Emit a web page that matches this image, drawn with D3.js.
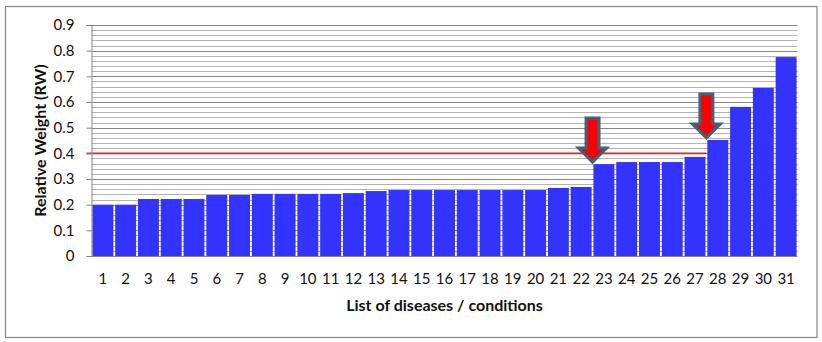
<!DOCTYPE html>
<html>
<head>
<meta charset="utf-8">
<script src="https://cdn.jsdelivr.net/npm/d3@7"></script>
<style>
  html, body { margin: 0; padding: 0; background: #fff; }
  svg { display: block; }
  text { font-family: Lato, "Open Sans", sans-serif; fill: #111; }
</style>
</head>
<body>
<svg id="chart" width="822" height="342"></svg>
<script>
// Diseases / conditions, numbered 1..31
const categories = d3.range(1, 32).map(String);

// Relative weight of each condition
const relativeWeight = [
  0.200, 0.200, 0.222, 0.222, 0.222, 0.238, 0.238, 0.242, 0.242, 0.242,
  0.242, 0.245, 0.253, 0.257, 0.257, 0.257, 0.257, 0.257, 0.257, 0.257,
  0.265, 0.269, 0.358, 0.366, 0.366, 0.366, 0.386, 0.452, 0.581, 0.655,
  0.775
];

// Y axis ticks
const yTicks = [0, 0.1, 0.2, 0.3, 0.4, 0.5, 0.6, 0.7, 0.8, 0.9];
const yMinorStep = 0.02;

// Reference threshold line and the category boundaries marked by arrows
const threshold = 0.4;
const arrowAfter = ["22", "27"];   // arrow sits between this category and the next
const arrowTip = [0.366, 0.46];    // value the arrow points to

const svg = d3.select("#chart");
const W = 822, H = 342;
const margin = { left: 91.5, right: 24.5, top: 25, bottom: 86 };
const plotW = W - margin.left - margin.right;
const plotH = H - margin.top - margin.bottom;

// Outer frame
svg.append("rect")
  .attr("x", 5.5).attr("y", 6.5)
  .attr("width", 811.5).attr("height", 331)
  .attr("fill", "#fff").attr("stroke", "#8c8c8c").attr("stroke-width", 1.3);

const g = svg.append("g").attr("transform", `translate(${margin.left},${margin.top})`);

const x = d3.scaleBand().domain(categories).range([0, plotW]).paddingInner(0.08).paddingOuter(0.04);
const y = d3.scaleLinear().domain([0, 0.9]).range([plotH, 0]);

// Minor gridlines every 0.02
const minor = d3.range(0, 0.9001, yMinorStep).filter(v => Math.abs(v * 10 - Math.round(v * 10)) > 1e-6);
g.append("g").selectAll("line").data(minor).join("line")
  .attr("x1", 0).attr("x2", plotW)
  .attr("y1", d => Math.round(y(d)) + 0.5).attr("y2", d => Math.round(y(d)) + 0.5)
  .attr("stroke", "#b4b4b4").attr("stroke-width", 1);

// Major gridlines
g.append("g").selectAll("line").data(yTicks.filter(d => d > 0)).join("line")
  .attr("x1", 0).attr("x2", plotW)
  .attr("y1", d => Math.round(y(d)) + 0.5).attr("y2", d => Math.round(y(d)) + 0.5)
  .attr("stroke", "#878787").attr("stroke-width", 1);

// Threshold line
const lastSlot = x(arrowAfter[arrowAfter.length - 1]) + x.bandwidth() + x.step() * x.paddingInner() / 2;
g.append("line")
  .attr("x1", -5).attr("x2", lastSlot)
  .attr("y1", y(threshold)).attr("y2", y(threshold))
  .attr("stroke", "#e8231f").attr("stroke-width", 1.6);

// Bars
g.append("g").selectAll("rect").data(relativeWeight).join("rect")
  .attr("x", (d, i) => x(categories[i]))
  .attr("y", d => y(d))
  .attr("width", x.bandwidth())
  .attr("height", d => y(0) - y(d))
  .attr("fill", "#3333ff");

// Y axis
const yAxis = g.append("g")
  .call(d3.axisLeft(y).tickValues(yTicks).tickFormat(d => d === 0 ? "0" : d3.format(".1f")(d)).tickSize(5).tickPadding(12));
yAxis.select(".domain").attr("stroke", "#868686");
yAxis.selectAll(".tick line").attr("stroke", "#868686");
yAxis.selectAll(".tick text").attr("font-size", 15).attr("font-family", "Lato, sans-serif").attr("fill", "#111");

// X axis
const xAxis = g.append("g").attr("transform", `translate(0,${plotH})`)
  .call(d3.axisBottom(x).tickSize(0).tickPadding(17));
xAxis.select(".domain").attr("stroke", "#868686").attr("d", `M0,0.5H${plotW}`);
xAxis.selectAll(".tick text").attr("font-size", 15).attr("font-family", "Lato, sans-serif").attr("fill", "#111");

// Arrows
const arrowLen = 44, headLen = 14, shaftHalf = 6.5, headHalf = 14;
arrowAfter.forEach((c, i) => {
  const cx = x(c) + x.bandwidth() + x.step() * x.paddingInner() / 2;
  const ty = y(arrowTip[i]);
  const top = ty - arrowLen, hy = ty - headLen;
  const pts = [
    [cx - shaftHalf, top], [cx + shaftHalf, top], [cx + shaftHalf, hy],
    [cx + headHalf, hy], [cx, ty], [cx - headHalf, hy], [cx - shaftHalf, hy]
  ];
  g.append("path")
    .attr("d", d3.line()(pts) + "Z")
    .attr("fill", "#ff0000").attr("stroke", "#42607f").attr("stroke-width", 3)
    .attr("stroke-linejoin", "miter");
});

// Axis titles
svg.append("text")
  .attr("transform", `translate(46,${margin.top + plotH / 2}) rotate(-90)`)
  .attr("text-anchor", "middle")
  .attr("font-size", 16).attr("font-weight", "bold")
  .text("Relative Weight (RW)");

svg.append("text")
  .attr("x", margin.left + plotW / 2).attr("y", 311)
  .attr("text-anchor", "middle")
  .attr("font-size", 16).attr("font-weight", "bold")
  .text("List of diseases / conditions");
</script>
</body>
</html>
